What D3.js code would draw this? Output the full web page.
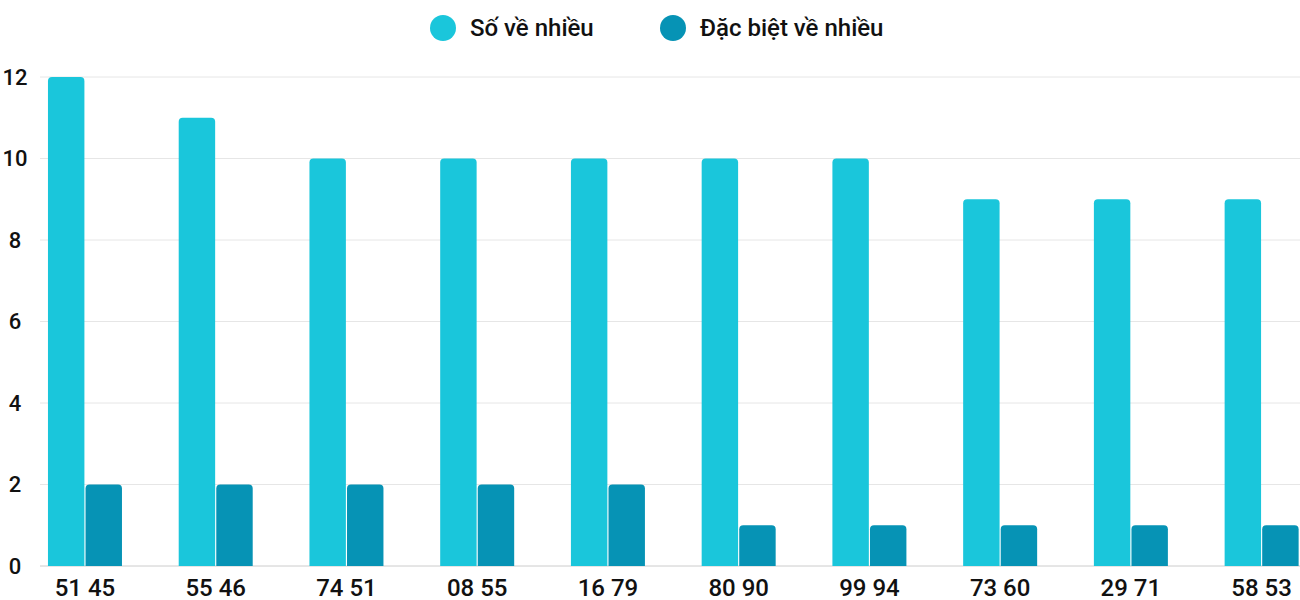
<!DOCTYPE html>
<html><head><meta charset="utf-8">
<script src="https://cdn.jsdelivr.net/npm/d3@7"></script>
<style>body{margin:0;background:#fff}svg{font-family:Roboto,sans-serif}</style>
</head><body><svg id="c" width="1300" height="600"></svg>
<script>
const categories = ["51 45","55 46","74 51","08 55","16 79","80 90","99 94","73 60","29 71","58 53"];
const soVeNhieu = [12,11,10,10,10,10,10,9,9,9];
const dacBiet = [2,2,2,2,2,1,1,1,1,1];
const seriesNames = ["Số về nhiều","Đặc biệt về nhiều"];
const colors = ["#1ac6db","#0693b5"];

const svg = d3.select("#c");
const y = d3.scaleLinear().domain([0,12]).range([566,77]);
const x = d3.scaleBand().domain(categories).range([19.6,1327]).paddingInner(0);
const inner = d3.scaleBand().domain([0,1]).range([0,74]).paddingInner(0.03);
const off = (x.bandwidth()-74)/2;

const grid = svg.append("g");
y.ticks(6).forEach(t => {
  grid.append("line").attr("x1",40).attr("x2",1300).attr("y1",y(t)).attr("y2",y(t))
    .attr("stroke", t===0 ? "#ccc" : "#e6e6e6");
  grid.append("text").attr("x",15).attr("y",y(t)).attr("dy","0.35em")
    .attr("text-anchor","middle").attr("font-size",22).attr("font-weight",500).attr("fill","#111").text(t);
});

function barPath(x0,w,y0,y1,r){
  r=Math.min(r,(y0-y1));
  return `M${x0},${y0}V${y1+r}Q${x0},${y1} ${x0+r},${y1}H${x0+w-r}Q${x0+w},${y1} ${x0+w},${y1+r}V${y0}Z`;
}
[soVeNhieu,dacBiet].forEach((vals,si)=>{
  svg.append("g").selectAll("path").data(vals).join("path")
    .attr("fill",colors[si])
    .attr("d",(d,i)=>barPath(x(categories[i])+off+inner(si),inner.bandwidth(),y(0),y(d),4));
});

svg.append("g").selectAll("text").data(categories).join("text")
  .attr("x",d=>x(d)+x.bandwidth()/2).attr("y",588).attr("dy","0.35em")
  .attr("text-anchor","middle").attr("font-size",24).attr("font-weight",500).attr("fill","#111").text(d=>d);

const legendX=[443,673];
seriesNames.forEach((n,i)=>{
  svg.append("circle").attr("cx",legendX[i]).attr("cy",28).attr("r",13).attr("fill",colors[i]);
  svg.append("text").attr("x",legendX[i]+27).attr("y",28).attr("dy","0.35em")
    .attr("font-size",24).attr("font-weight",500).attr("fill","#111").text(n);
});
</script></body></html>
